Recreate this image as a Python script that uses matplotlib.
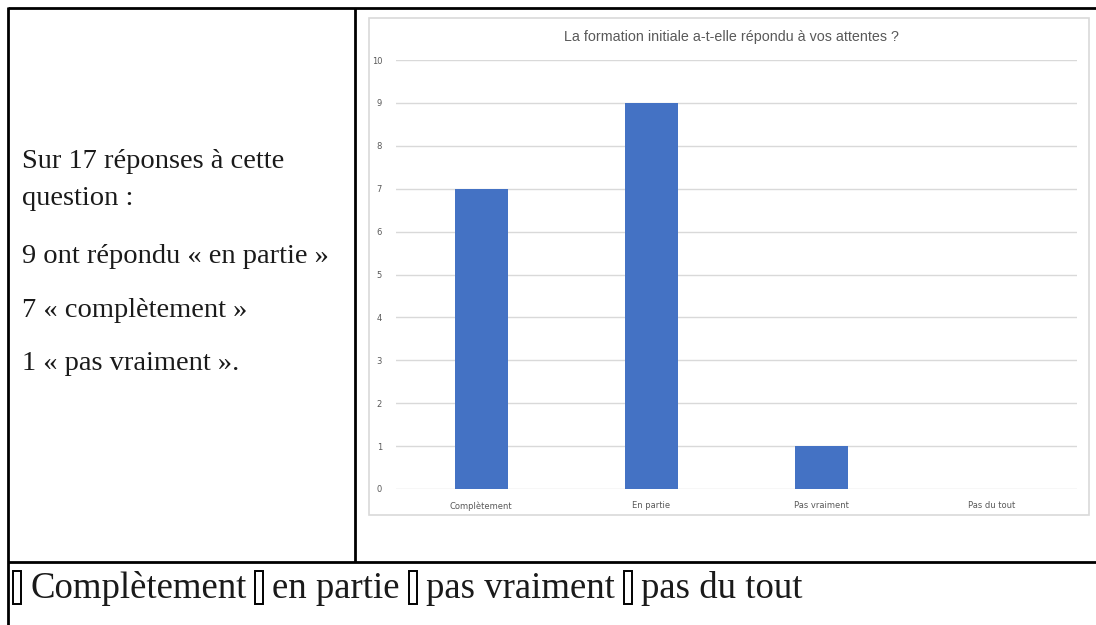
import matplotlib
matplotlib.use("Agg")
import matplotlib.pyplot as plt
from matplotlib.patches import Rectangle

# ---- data ----
categories = ["Complètement", "En partie", "Pas vraiment", "Pas du tout"]
counts = [7, 9, 1, 0]
yticks = list(range(0, 11))
chart_title = "La formation initiale a-t-elle répondu à vos attentes ?"
left_lines = ["Sur 17 réponses à cette", "question :", "9 ont répondu « en partie »",
              "7 « complètement »", "1 « pas vraiment »."]
option_labels = ["Complètement", "en partie", "pas vraiment", "pas du tout"]

W, H = 1096, 625
fig = plt.figure(figsize=(W / 100, H / 100), dpi=100)
fig.patch.set_facecolor("white")

# page axes in pixel coordinates
page = fig.add_axes([0, 0, 1, 1])
page.set_xlim(0, W)
page.set_ylim(H, 0)
page.axis("off")

# table lines
lw = 2.0
page.plot([8, W], [8, 8], color="black", lw=lw, solid_capstyle="butt")
page.plot([8, 8], [7, H], color="black", lw=lw, solid_capstyle="butt")
page.plot([355, 355], [8, 562], color="black", lw=lw, solid_capstyle="butt")
page.plot([8, W], [562, 562], color="black", lw=lw, solid_capstyle="butt")

serif = ["Liberation Serif", "DejaVu Serif"]

# left column text
line_base = [168, 205, 263, 317, 370]
for txt, y in zip(left_lines, line_base):
    page.text(22, y, txt, fontsize=20.5, family=serif, color="#1a1a1a",
              va="baseline", ha="left")

# bottom row: missing-glyph boxes and labels laid out in a flow
fig.canvas.draw()
renderer = fig.canvas.get_renderer()
fs_bottom = 26.5
box_w, gap = 8, 9
x = 13
for lab in option_labels:
    page.add_patch(Rectangle((x, 571), box_w, 33, facecolor="white",
                             edgecolor="black", lw=1.4))
    x += box_w + gap
    t = page.text(x, 598, lab, fontsize=fs_bottom, family=serif, color="#1a1a1a",
                  va="baseline", ha="left")
    bb = t.get_window_extent(renderer=renderer)
    x += bb.width + gap

# chart image frame
page.add_patch(Rectangle((369, 18), 1089 - 369, 515 - 18, facecolor="white",
                         edgecolor="#d9d9d9", lw=1.2))
page.text(731, 37, chart_title, fontsize=10.3, family=["Liberation Sans", "DejaVu Sans"],
          color="#595959", ha="center", va="center")

# chart axes
x0, x1 = 396, 1077
y_top, y_bot = 60, 489
ax = fig.add_axes([x0 / W, 1 - y_bot / H, (x1 - x0) / W, (y_bot - y_top) / H])
ax.set_facecolor("none")
xs = list(range(len(categories)))
ax.bar(xs, counts, width=0.31, color="#4472C4", zorder=3)
ax.set_xlim(-0.5, len(categories) - 0.5)
ax.set_ylim(0, 10)
ax.set_yticks(yticks)
ax.set_yticklabels([str(v) for v in yticks])
ax.set_xticks(xs)
ax.set_xticklabels(categories)
for s in ax.spines.values():
    s.set_visible(False)
ax.grid(axis="y", color="#d9d9d9", lw=1.0, zorder=0)
ax.tick_params(axis="both", length=0, labelsize=6, labelcolor="#595959")
ax.tick_params(axis="y", pad=10)
ax.tick_params(axis="x", pad=9)

fig.savefig("out.png", dpi=100, facecolor="white")
